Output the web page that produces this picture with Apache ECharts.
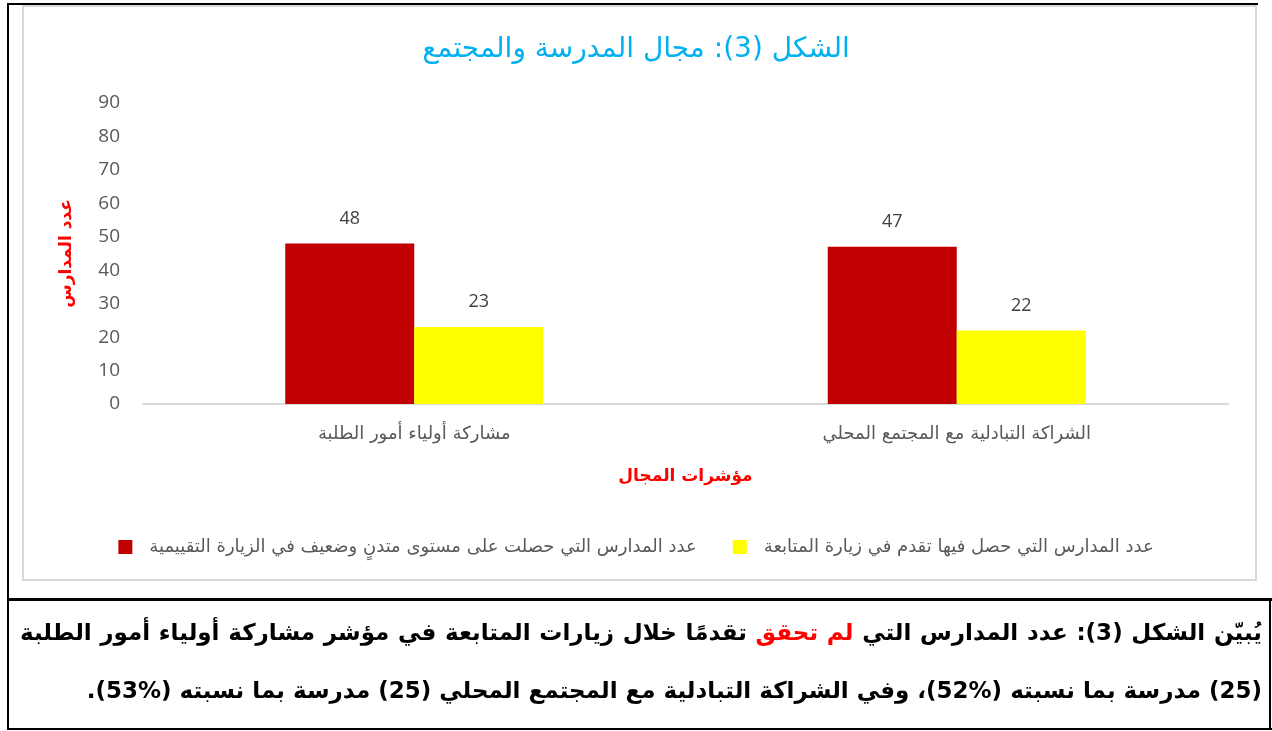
<!DOCTYPE html>
<html>
<head>
<meta charset="utf-8">
<script src="https://cdn.jsdelivr.net/npm/echarts@6/dist/echarts.min.js"></script>
<style>
  html, body { margin: 0; padding: 0; background: #fff; }
  body { width: 1272px; height: 731px; position: relative; overflow: hidden; font-family: "DejaVu Sans", sans-serif; }
  .line { position: absolute; background: #000; }
  #chartBox { position: absolute; left: 22px; top: 5px; width: 1231px; height: 572px; border: 2px solid #d9d9d9; }
  #main { position: absolute; left: 0; top: 0; width: 1272px; height: 731px; }
  .para { position: absolute; white-space: nowrap; font-weight: bold; font-size: 23px; color: #000; }
  .para .red { color: #ff0000; }
  .justify { left: 20px; width: 1242px; text-align: justify; text-align-last: justify; }
</style>
</head>
<body>
<!-- table borders -->
<div class="line" style="left:8px; top:3px; width:1250px; height:2px;"></div>
<div class="line" style="left:7px; top:3px; width:2px; height:727px;"></div>
<div class="line" style="left:7px; top:598px; width:1265px; height:3px;"></div>
<div class="line" style="left:7px; top:728px; width:1265px; height:2px;"></div>
<div class="line" style="left:1269px; top:598px; width:2px; height:132px;"></div>
<div id="chartBox"></div>
<div id="main" dir="rtl"></div>
<div class="para justify" dir="rtl" style="top:619px; white-space: normal;">يُبيّن الشكل (3): عدد المدارس التي <span class="red">لم تحقق</span> تقدمًا خلال زيارات المتابعة في مؤشر مشاركة أولياء أمور الطلبة</div>
<div class="para" dir="rtl" style="top:677px; right:10px;">(25) مدرسة بما نسبته (%52)، وفي الشراكة التبادلية مع المجتمع المحلي (25) مدرسة بما نسبته (%53).</div>
<script>
// بيانات الشكل (3)
const titleText = "الشكل (3): مجال المدرسة والمجتمع";
const categories = ["مشاركة أولياء أمور الطلبة", "الشراكة التبادلية مع المجتمع المحلي"];
const seriesNames = [
  "عدد المدارس التي حصلت على مستوى متدنٍ وضعيف في الزيارة التقييمية",
  "عدد المدارس التي حصل فيها تقدم في زيارة المتابعة",
];
const lowLevel = [48, 47]; // الزيارة التقييمية
const progressed = [23, 22]; // زيارة المتابعة
const colors = ["#c00000", "#ffff00"];
const yTicks = { min: 0, max: 90, interval: 10 };

const labelStyle = { show: true, position: "top", distance: 16, fontSize: 18, color: "#404040", fontFamily: "Open Sans" };

const options = {
  animation: false,
  color: colors,
  title: {
    text: titleText,
    left: "center",
    top: 31,
    textStyle: { color: "#00b0f0", fontSize: 28, fontWeight: "normal", fontFamily: "DejaVu Sans" },
  },
  legend: {
    left: "center",
    top: 533,
    align: "left",
    icon: "rect",
    itemWidth: 14,
    itemHeight: 14,
    itemGap: 36,
    textStyle: { fontSize: 18, color: "#595959", fontFamily: "DejaVu Sans", padding: [0, 0, 0, 12] },
    data: seriesNames,
  },
  grid: { left: 143, right: 44, top: 103, bottom: 327 },
  xAxis: {
    type: "category",
    data: categories,
    axisLine: { lineStyle: { color: "#d9d9d9", width: 2 } },
    axisTick: { show: false },
    axisLabel: { color: "#595959", fontSize: 18, margin: 21, fontFamily: "DejaVu Sans" },
    name: "مؤشرات المجال",
    nameLocation: "middle",
    nameGap: 64,
    nameTextStyle: { color: "#ff0000", fontSize: 17, fontWeight: "bold", fontFamily: "DejaVu Sans" },
  },
  yAxis: {
    type: "value",
    min: yTicks.min,
    max: yTicks.max,
    interval: yTicks.interval,
    axisLine: { show: false },
    axisTick: { show: false },
    splitLine: { show: false },
    axisLabel: { color: "#595959", fontSize: 19, margin: 23, fontFamily: "Open Sans" },
    name: "عدد المدارس",
    nameLocation: "middle",
    nameRotate: 90,
    nameGap: 68,
    nameTextStyle: { color: "#ff0000", fontSize: 17, fontWeight: "bold", fontFamily: "DejaVu Sans" },
  },
  series: [
    { name: seriesNames[0], type: "bar", data: lowLevel, barWidth: 129, barGap: "0%", label: labelStyle },
    { name: seriesNames[1], type: "bar", data: progressed, barWidth: 129, barGap: "0%", label: labelStyle },
  ],
};

const myChart = echarts.init(document.getElementById("main"));
myChart.setOption(options);
</script>
</body>
</html>
